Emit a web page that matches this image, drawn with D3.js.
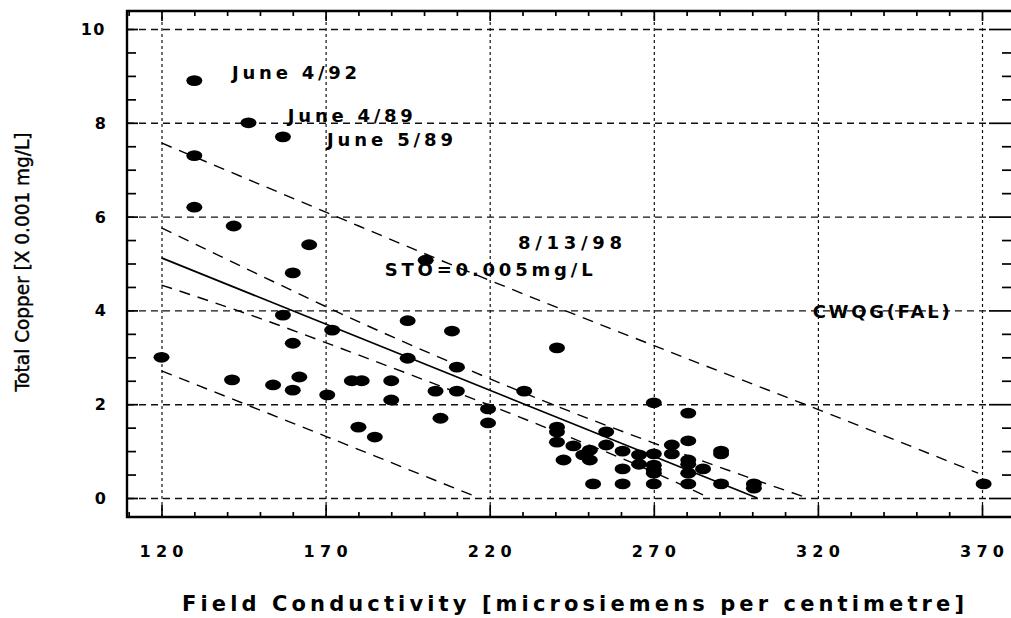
<!DOCTYPE html>
<html>
<head>
<meta charset="utf-8">
<script src="https://cdn.jsdelivr.net/npm/d3@7"></script>
<style>
  body { margin: 0; background: #fff; }
  svg { display: block; }
</style>
</head>
<body>
<svg id="chart" width="1011" height="618"></svg>
<script>
// Field conductivity (µS/cm) and total copper (x 0.001 mg/L) samples
const conductivity = [
  130, 146.5, 157, 130, 130, 142, 165, 200.5, 160, 157,
  172, 195, 208.5, 160, 120, 195, 210, 162, 141.5, 154,
  160, 178, 181, 190, 170.5, 190, 203.5, 210, 219.5, 205,
  219.5, 180, 185, 230.5, 240.5,
  270, 280.5, 240.5, 240.5, 255.5, 240.5, 280.5, 245.5, 255.5, 250.5,
  275.5, 275.5, 290.5, 290.5, 248.5, 260.5, 265.5, 270, 242.5, 250.5,
  265.5, 280.5, 280.5, 270, 270, 270, 260.5, 285, 280.5, 251.5,
  260.5, 270, 280.5, 290.5, 300.5, 300.5, 370.5
];
const copper = [
  8.9, 8.0, 7.7, 7.3, 6.2, 5.8, 5.4, 5.07, 4.8, 3.9,
  3.58, 3.78, 3.56, 3.3, 3.0, 2.98, 2.79, 2.58, 2.52, 2.41,
  2.3, 2.5, 2.5, 2.5, 2.2, 2.09, 2.28, 2.28, 1.9, 1.7,
  1.6, 1.51, 1.3, 2.28, 3.2,
  2.03, 1.81, 1.51, 1.41, 1.41, 1.19, 1.22, 1.11, 1.13, 1.02,
  1.13, 0.94, 1.0, 0.94, 0.92, 1.0, 0.92, 0.94, 0.81, 0.81,
  0.72, 0.81, 0.72, 0.7, 0.6, 0.53, 0.62, 0.62, 0.53, 0.3,
  0.3, 0.3, 0.3, 0.3, 0.3, 0.21, 0.3
];

// Regression line and its confidence / prediction bands
const fitLine        = [[120, 5.12], [301.5, 0]];
const upperPredict   = [[120, 7.57], [170.6, 6.08], [205, 5.07], [281.3, 2.94], [320.3, 1.88], [368.8, 0.53]];
const upperConfid    = [[120, 5.76], [150, 4.75], [180, 3.76], [210, 2.84], [240, 1.97], [270, 1.17], [300, 0.41], [316, 0.02]];
const lowerConfid    = [[120, 4.54], [150, 3.83], [180, 3.05], [210, 2.25], [240, 1.42], [270, 0.55], [287, 0.0]];
const lowerPredict   = [[120, 2.71], [170.6, 1.3], [215, 0.05]];

const xTicks = [120, 170, 220, 270, 320, 370];
const yTicks = [0, 2, 4, 6, 8, 10];
const xTickLabels = ["120", "170", "220", "270", "320", "370"];
const yTickLabels = ["0", "2", "4", "6", "8", "10"];

const noteLabels = ["June 4/92", "June 4/89", "June 5/89", "8/13/98", "STO=0.005mg/L", "CWQG(FAL)"];
const xTitle = "Field Conductivity [microsiemens per centimetre]";
const yTitle = "Total Copper [X 0.001 mg/L]";

const svg = d3.select("#chart");
const frame = { l: 127, r: 1012, t: 11, b: 517 };

const x = d3.scaleLinear().domain([120, 370]).range([161.5, 982]);
const y = d3.scaleLinear().domain([0, 10]).range([498, 29]);

const FONT = "'DejaVu Sans', Verdana, sans-serif";

svg.append("rect").attr("width", 1011).attr("height", 618).attr("fill", "#fff");

// ---- grid ----
const hGrid = svg.append("g").attr("transform", `translate(${frame.l},0)`)
  .call(d3.axisLeft(y).tickValues(yTicks).tickSize(-(988 - frame.l)).tickFormat(""));
hGrid.select(".domain").remove();
hGrid.selectAll("line").attr("stroke", "#111").attr("stroke-width", 1.4).attr("stroke-dasharray", "7,5");

const vGrid = svg.append("g").attr("transform", `translate(0,${frame.b})`)
  .call(d3.axisBottom(x).tickValues(xTicks).tickSize(-(frame.b - frame.t)).tickFormat(""));
vGrid.select(".domain").remove();
vGrid.selectAll("line").attr("stroke", "#111").attr("stroke-width", 1.2).attr("stroke-dasharray", "3,3");

// ---- inward tick marks on all four sides ----
const xMinor = d3.range(110, 380, 10).filter(v => !xTicks.includes(v));
const yMinor = d3.range(0, 10.01, 0.5).filter(v => !yTicks.includes(v));

function tickGroup(axis, tx, ty) {
  const g = svg.append("g").attr("transform", `translate(${tx},${ty})`).call(axis);
  g.select(".domain").remove();
  g.selectAll("line").attr("stroke", "#000").attr("stroke-width", 1.7);
  return g;
}
tickGroup(d3.axisBottom(x).tickValues(xMinor).tickSize(-5).tickFormat(""), 0, frame.b);
tickGroup(d3.axisBottom(x).tickValues(xTicks).tickSize(-12).tickFormat(""), 0, frame.b);
tickGroup(d3.axisTop(x).tickValues(xMinor).tickSize(-5).tickFormat(""), 0, frame.t);
tickGroup(d3.axisTop(x).tickValues(xTicks).tickSize(-10).tickFormat(""), 0, frame.t);
tickGroup(d3.axisLeft(y).tickValues(yMinor).tickSize(-9).tickFormat(""), frame.l, 0);
tickGroup(d3.axisLeft(y).tickValues(yTicks).tickSize(-11).tickFormat(""), frame.l, 0);
tickGroup(d3.axisRight(y).tickValues(yMinor).tickSize(-9).tickFormat(""), 1011, 0);
tickGroup(d3.axisRight(y).tickValues(yTicks).tickSize(-22).tickFormat(""), 1011, 0);

// ---- frame ----
svg.append("path")
  .attr("d", `M${frame.r},${frame.t}H${frame.l}V${frame.b}H${frame.r}`)
  .attr("fill", "none").attr("stroke", "#000").attr("stroke-width", 2.4);

// ---- regression line and bands ----
const line = d3.line().x(d => x(d[0])).y(d => y(d[1])).curve(d3.curveMonotoneX);
svg.append("path").datum(fitLine).attr("d", line)
  .attr("fill", "none").attr("stroke", "#000").attr("stroke-width", 1.7);
[upperPredict, upperConfid, lowerConfid, lowerPredict].forEach(band => {
  svg.append("path").datum(band).attr("d", line)
    .attr("fill", "none").attr("stroke", "#000").attr("stroke-width", 1.4)
    .attr("stroke-dasharray", "11,8");
});

// ---- samples ----
svg.append("g").selectAll("ellipse")
  .data(conductivity.map((c, i) => [c, copper[i]]))
  .join("ellipse")
  .attr("cx", d => x(d[0])).attr("cy", d => y(d[1]))
  .attr("rx", 8).attr("ry", 5.4).attr("fill", "#000");

// ---- annotations ----
const notePos = [[141.5, 8.93, 125], [158.5, 8.02, 125], [170.4, 7.51, 126],
                 [228.6, 5.31, 104], [188, 4.73, 208], [318.4, 3.84, 137]];
svg.append("g").selectAll("text").data(noteLabels).join("text")
  .attr("x", (d, i) => x(notePos[i][0])).attr("y", (d, i) => y(notePos[i][1]))
  .attr("textLength", (d, i) => notePos[i][2]).attr("lengthAdjust", "spacing")
  .attr("font-family", FONT).attr("font-size", 18).attr("font-weight", "bold")
  .attr("fill", "#000").text(d => d);

// ---- tick labels ----
svg.append("g").selectAll("text").data(xTickLabels).join("text")
  .attr("x", (d, i) => x(xTicks[i])).attr("y", 557)
  .attr("text-anchor", "middle")
  .attr("textLength", 44).attr("lengthAdjust", "spacing")
  .attr("font-family", FONT).attr("font-size", 16).attr("font-weight", "bold")
  .attr("fill", "#000").text(d => d);

svg.append("g").selectAll("text").data(yTickLabels).join("text")
  .attr("x", 106).attr("y", (d, i) => y(yTicks[i]) + 6)
  .attr("text-anchor", "end")
  .attr("letter-spacing", d => d.length > 1 ? 1.5 : 0)
  .attr("font-family", FONT).attr("font-size", 16).attr("font-weight", "bold")
  .attr("fill", "#000").text(d => d);

// ---- axis titles ----
svg.append("text")
  .attr("x", 182).attr("y", 611)
  .attr("textLength", 782).attr("lengthAdjust", "spacing")
  .attr("font-family", FONT).attr("font-size", 21).attr("font-weight", "bold")
  .attr("fill", "#000").text(xTitle);

svg.append("text")
  .attr("transform", "translate(29,262) rotate(-90)")
  .attr("text-anchor", "middle")
  .attr("textLength", 259).attr("lengthAdjust", "spacingAndGlyphs")
  .attr("font-family", "'Liberation Sans Narrow', 'DejaVu Sans Condensed', sans-serif")
  .attr("font-size", 20)
  .attr("stroke", "#000").attr("stroke-width", 0.4)
  .attr("fill", "#000").text(yTitle);
</script>
</body>
</html>
